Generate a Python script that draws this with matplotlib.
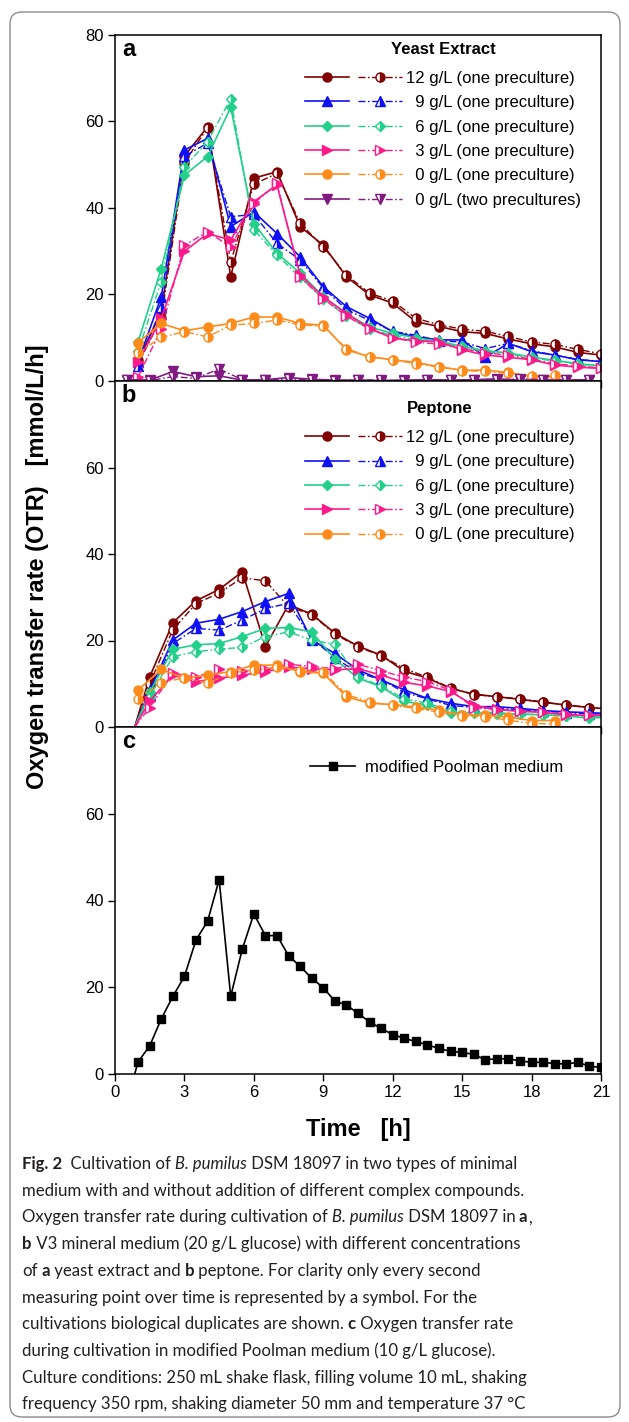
import numpy as np
import matplotlib
matplotlib.use('Agg')
import matplotlib.pyplot as plt
from matplotlib.lines import Line2D
from matplotlib.legend_handler import HandlerTuple
from matplotlib.patches import FancyBboxPatch

plt.rcParams['font.family'] = ['Liberation Sans', 'DejaVu Sans']

# ---------------- data (OTR, mmol/L/h) ----------------
# panel a: yeast extract, markers every hour
t_a = np.arange(1, 22)
ye12_1 = [4.8, 16, 52, 58.8, 24.1, 46.9, 48.4, 35.7, 31.4, 24.1, 19.9, 18.0, 13.7, 12.6, 11.4, 11.0, 9.7, 8.6, 7.9, 6.6, 6.0]
ye12_2 = [4.0, 14.5, 50.5, 58.6, 27.5, 45.5, 48.0, 36.5, 31.0, 24.5, 20.3, 18.5, 14.5, 13.0, 12.0, 11.5, 10.3, 9.0, 8.5, 7.3, 6.3]
ye9_1 = [4.5, 19.5, 53.4, 56.1, 35.7, 39.1, 34.1, 28.7, 21.8, 17.2, 14.5, 11.4, 10.2, 9.5, 9.5, 5.5, 8.7, 6.8, 6.0, 4.9, 4.5]
ye9_2 = [3.5, 17, 52, 55, 38, 38.5, 31.8, 28, 21.5, 16.5, 14, 11.5, 10.6, 9.3, 9.0, 7.5, 8.7, 7.0, 6.0, 5.0, 4.5]
ye6_1 = [9.1, 26, 47.6, 51.9, 63.3, 36.4, 29.5, 25, 19.5, 15.6, 12.5, 11, 10, 9.2, 8.0, 7.0, 6.5, 5.5, 4.8, 4.0, 3.5]
ye6_2 = [7, 23, 49.5, 55.3, 65.3, 35, 29.1, 24, 19, 15, 12, 10.5, 9.5, 8.8, 7.8, 6.8, 6.3, 5.3, 4.6, 3.9, 3.4]
ye3_1 = [4.5, 14.5, 30, 34.1, 32.6, 41.5, 45.3, 24.5, 19.5, 15.6, 12.2, 9.9, 9.3, 9.1, 7.2, 6.0, 5.5, 4.9, 3.7, 3.2, 2.9]
ye3_2 = [1.0, 12, 31.4, 34.5, 31, 41, 45.7, 24, 19, 15, 12, 10, 9, 8.5, 7.5, 6.5, 6.0, 5.0, 4.0, 3.5, 3.0]
t_a0 = np.arange(1, 20)
ye0_1 = [8.9, 13.3, 11.6, 12.5, 13.3, 14.8, 14.8, 13.3, 12.9, 7.2, 5.6, 4.9, 4.3, 3.3, 2.5, 2.5, 2.0, 1.0, 1.0]
ye0_2 = [6.5, 10.1, 11.4, 10.2, 12.9, 13.3, 14.1, 13.0, 12.7, 7.5, 5.6, 4.9, 4.0, 3.2, 2.4, 2.2, 1.8, 1.2, 1.3]
t_a2p = np.arange(0.5, 21, 1.0)
ye0two_1 = [0.3, 0.2, 2.2, 1.0, 1.2, 0.2, 0.3, 0.8, 0.4, 0.2, 0.2, 0.1, 0.2, 0.3, 0.2, 0.3, 0.5, 0.2, 0.2, 0.2, 0.3]
ye0two_2 = [0.2, 0.1, 1.0, 0.6, 2.8, 0.3, 0.2, 0.5, 0.2, 0.1, 0.3, 0.2, 0.1, 0.2, 0.3, 0.2, 0.2, 0.5, 0.3, 0.2, 0.2]

# panel b: peptone (first / last value without marker)
t_b = np.concatenate(([0.85], np.arange(1.5, 20.6, 1.0), [21.0]))
pe12_1 = [0, 11.6, 24.1, 29.2, 31.8, 35.9, 18.6, 28.3, 26.1, 21.7, 18.7, 16.6, 12.9, 11.3, 8.9, 7.6, 7.0, 6.4, 5.7, 5.1, 4.5, 4.3]
pe12_2 = [0, 10, 22.5, 28.5, 31, 34.5, 33.8, 27.8, 26, 21.5, 18.5, 16.5, 13.5, 11.5, 9, 7.5, 7, 6.5, 5.8, 5.0, 4.5, 4.3]
pe9_1 = [0, 8.5, 20.1, 24.0, 24.9, 26.7, 29.0, 30.9, 20.1, 17.0, 13.2, 10.9, 8.6, 6.6, 5.5, 4.7, 4.7, 4.3, 3.8, 3.5, 3.3, 3.2]
pe9_2 = [0, 7.5, 19.3, 22.8, 22.4, 24.7, 27.4, 28.6, 20.5, 16.0, 12.5, 11.0, 8.0, 6.5, 5.0, 4.5, 4.3, 4.0, 3.7, 3.3, 3.0, 3.0]
pe6_1 = [0, 8.0, 18.0, 19.0, 19.3, 20.9, 22.8, 23.0, 22.0, 15.7, 11.3, 9.3, 5.9, 5.1, 3.3, 3.3, 3.0, 3.0, 2.8, 2.6, 2.0, 2.2]
pe6_2 = [0, 7.0, 16.3, 17.4, 18.0, 18.4, 20.9, 22.0, 20.1, 19.1, 11.6, 9.5, 6.5, 5.5, 3.8, 3.5, 3.3, 3.0, 2.8, 2.6, 2.5, 2.5]
pe3_1 = [0, 6.0, 12.0, 10.5, 11.3, 12.0, 12.8, 13.8, 13.5, 13.2, 13.5, 12.0, 10.3, 9.5, 8.2, 5.0, 4.1, 3.6, 3.4, 2.8, 2.7, 2.7]
pe3_2 = [0, 4.5, 12.5, 11.5, 13.5, 13.0, 13.3, 14.5, 14.0, 13.5, 14.5, 13.0, 11.5, 10.5, 8.5, 4.5, 4.0, 3.7, 3.5, 3.0, 2.8, 2.8]
t_b0 = np.arange(1, 20)
pe0_1 = [8.6, 13.3, 11.3, 12.0, 12.8, 14.3, 14.3, 12.8, 12.4, 7.0, 5.5, 5.2, 4.6, 3.9, 2.8, 2.7, 2.3, 1.5, 1.5]
pe0_2 = [6.4, 10.2, 11.4, 10.1, 12.5, 13.2, 13.8, 13.0, 12.7, 7.5, 5.8, 5.0, 4.3, 3.4, 2.6, 2.3, 1.6, 0.8, 0.7]

# panel c: modified Poolman medium
t_c = np.concatenate(([0.85], np.arange(1.0, 21.01, 0.5)))
poolman = [0, 2.8, 6.5, 12.7, 17.9, 22.5, 30.9, 35.2, 44.8, 17.9, 28.8, 36.9, 31.9, 31.9, 27.3, 24.8,
           22.1, 19.9, 16.8, 15.9, 14.0, 12.0, 10.5, 9.1, 8.2, 7.5, 6.7, 5.9, 5.2, 5.0, 4.5, 3.3,
           3.5, 3.5, 3.0, 2.7, 2.7, 2.4, 2.3, 2.7, 1.8, 1.5]

labels_a = ['12 g/L (one preculture)', '  9 g/L (one preculture)', '  6 g/L (one preculture)',
            '  3 g/L (one preculture)', '  0 g/L (one preculture)', '  0 g/L (two precultures)']
labels_b = labels_a[:5]

C_RED, C_BLUE, C_GREEN, C_PINK, C_ORANGE, C_PURPLE = '#800000', '#1010F5', '#22D08A', '#FF1A8C', '#FF8C1A', '#801A80'
DASH = (0, (5, 1.8, 1.2, 1.8))

W, H = 629, 1422
fig = plt.figure(figsize=(W / 100, H / 100), dpi=100)


def fx(px):
    return px / W


def fy(py):
    return 1 - py / H


L, R = 115, 601
axa = fig.add_axes([fx(L), fy(381), fx(R - L), 346 / H])
axb = fig.add_axes([fx(L), fy(727), fx(R - L), 346 / H])
axc = fig.add_axes([fx(L), fy(1074), fx(R - L), 347 / H])

for ax, yt in [(axa, [0, 20, 40, 60, 80]), (axb, [0, 20, 40, 60]), (axc, [0, 20, 40, 60])]:
    ax.set_xlim(0, 21)
    ax.set_ylim(0, 80)
    ax.set_xticks(range(0, 22, 3))
    ax.set_yticks(yt)
    ax.tick_params(direction='out', length=5, width=1, labelsize=12, pad=3)
    for s in ax.spines.values():
        s.set_linewidth(1.1)
axa.tick_params(labelbottom=False)
axb.tick_params(labelbottom=False)


def pair(ax, t1, y1, t2, y2, color, marker, ms, mev=None):
    ax.plot(t1, y1, color=color, lw=1.2, marker=marker, ms=ms, mec=color, markevery=mev)
    ax.plot(t2, y2, color=color, lw=1.0, ls=DASH, marker=marker, ms=ms, mec=color,
            fillstyle='right', markerfacecoloralt='white', markevery=mev)
    h1 = Line2D([], [], color=color, lw=1.2, marker=marker, ms=ms, mec=color)
    h2 = Line2D([], [], color=color, lw=1.0, ls=DASH, marker=marker, ms=ms, mec=color,
                fillstyle='right', markerfacecoloralt='white')
    return (h1, h2)


MS = 6.5
ha = [pair(axa, t_a, ye12_1, t_a, ye12_2, C_RED, 'o', MS),
      pair(axa, t_a, ye9_1, t_a, ye9_2, C_BLUE, '^', MS),
      pair(axa, t_a, ye6_1, t_a, ye6_2, C_GREEN, 'D', 5.5),
      pair(axa, t_a, ye3_1, t_a, ye3_2, C_PINK, '>', MS),
      pair(axa, t_a0, ye0_1, t_a0, ye0_2, C_ORANGE, 'o', MS),
      pair(axa, t_a2p, ye0two_1, t_a2p, ye0two_2, C_PURPLE, 'v', MS)]

mb = slice(1, -1)
hb = [pair(axb, t_b, pe12_1, t_b, pe12_2, C_RED, 'o', MS, mb),
      pair(axb, t_b, pe9_1, t_b, pe9_2, C_BLUE, '^', MS, mb),
      pair(axb, t_b, pe6_1, t_b, pe6_2, C_GREEN, 'D', 5.5, mb),
      pair(axb, t_b, pe3_1, t_b, pe3_2, C_PINK, '>', MS, mb),
      pair(axb, t_b0, pe0_1, t_b0, pe0_2, C_ORANGE, 'o', MS)]

axc.plot(t_c, poolman, color='black', lw=1.2, marker='s', ms=5.5, markevery=slice(1, None))
hc = Line2D([], [], color='black', lw=1.2, marker='s', ms=5.5)

leg_kw = dict(frameon=False, fontsize=12, numpoints=1, handlelength=5.8, handletextpad=0.25,
              labelspacing=0.56, borderpad=0.3, borderaxespad=0, loc='upper left',
              title_fontproperties={'weight': 'bold', 'size': 12},
              handler_map={tuple: HandlerTuple(ndivide=None, pad=0.5)})
leg_a = axa.legend(ha, labels_a, title='Yeast Extract', bbox_to_anchor=(0.381, 0.994), **leg_kw)
leg_b = axb.legend(hb, labels_b, title='Peptone', bbox_to_anchor=(0.381, 0.956), **leg_kw)
for leg in (leg_a, leg_b):
    leg._legend_box.sep = 10  # a bit more room under the title
axc.legend([hc], ['modified Poolman medium'], frameon=False, fontsize=12, numpoints=1,
           handlelength=2.7, handletextpad=0.6, borderpad=0.3, borderaxespad=0,
           loc='upper left', bbox_to_anchor=(0.391, 0.92))

for ax, letter in [(axa, 'a'), (axb, 'b'), (axc, 'c')]:
    ax.text(0.014, 0.99, letter, transform=ax.transAxes, fontsize=17, fontweight='bold',
            ha='left', va='top')

axc.set_xlabel('Time   [h]', fontsize=17, fontweight='bold', labelpad=13)
fig.text(fx(38), fy(567), 'Oxygen transfer rate (OTR)   [mmol/L/h]', rotation=90,
         fontsize=17, fontweight='bold', ha='center', va='center')

# caption
cap_lines = [
    [('Fig. 2', 'b'), ('  Cultivation of', 'n'), (' B. pumilus', 'i'), (' DSM 18097 in two types of minimal', 'n')],
    [('medium with and without addition of different complex compounds.', 'n')],
    [('Oxygen transfer rate during cultivation of', 'n'), (' B. pumilus', 'i'), (' DSM 18097 in', 'n'), (' a', 'b'), (',', 'n')],
    [('b', 'b'), (' V3 mineral medium (20 g/L glucose) with different concentrations', 'n')],
    [('of', 'n'), (' a', 'b'), (' yeast extract and', 'n'), (' b', 'b'), (' peptone. For clarity only every second', 'n')],
    [('measuring point over time is represented by a symbol. For the', 'n')],
    [('cultivations biological duplicates are shown.', 'n'), (' c', 'b'), (' Oxygen transfer rate', 'n')],
    [('during cultivation in modified Poolman medium (10 g/L glucose).', 'n')],
    [('Culture conditions: 250 mL shake flask, filling volume 10 mL, shaking', 'n')],
    [('frequency 350 rpm, shaking diameter 50 mm and temperature 37 \u00b0C', 'n')],
]
CAP_FS = 12.1
for i, parts in enumerate(cap_lines):
    prev = None
    for s, st in parts:
        kw = dict(fontsize=CAP_FS, family='Lato', ha='left', va='bottom', color='#231f20')
        if st == 'b':
            kw['fontweight'] = 'bold'
        if st == 'i':
            kw['fontstyle'] = 'italic'
        if prev is None:
            prev = fig.text(fx(22), fy(1172 + 26.7 * i), s, **kw)
        else:
            prev = axc.annotate(s, xy=(1, 0), xycoords=prev, annotation_clip=False, **kw)

fig.add_artist(FancyBboxPatch((0.10, 0.05), 6.10, 14.05, boxstyle='round,pad=0,rounding_size=0.12',
                              transform=fig.dpi_scale_trans, fill=False, ec='#8c8c8c', lw=1.0))

fig.savefig('out.png', dpi=100)
